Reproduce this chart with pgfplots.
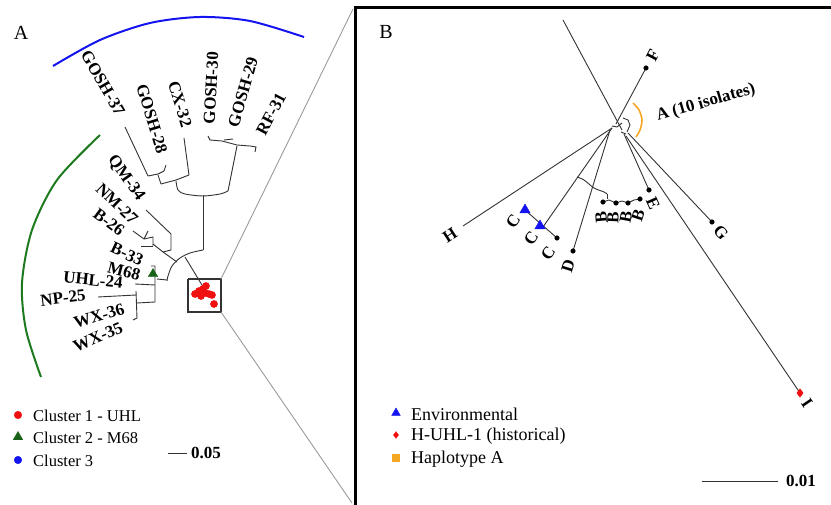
\documentclass[border=0pt]{standalone}
\usepackage{fontspec}
\setmainfont{Liberation Serif}
\usepackage{pgfplots}
\pgfplotsset{compat=1.18}
\definecolor{tr}{HTML}{333333}
\definecolor{gr}{HTML}{9A9A9A}
\definecolor{cgreen}{HTML}{1E7A1E}
\definecolor{cblue}{HTML}{1414F0}
\definecolor{corange}{HTML}{F5A623}
\definecolor{cred}{HTML}{F01010}
\tikzset{
  lbl/.style={font=\fontsize{17}{17}\selectfont\bfseries, inner sep=0pt},
  leg/.style={font=\fontsize{18}{18}\selectfont, anchor=west, inner sep=0pt},
  lega/.style={font=\fontsize{16.5}{16.5}\selectfont, anchor=west, inner sep=0pt},
}
\pgfplotsset{tree/.style={tr, line width=0.9pt, mark=none}}
\begin{document}
\begin{tikzpicture}
\begin{axis}[scale only axis, width=831pt, height=505pt,
  xmin=0, xmax=831, ymin=0, ymax=505, y dir=reverse,
  hide axis, clip=false, anchor=south west, at={(0,0)}]
% ---------- Panel A arcs ----------
\addplot[cblue, line width=2pt, smooth, mark=none] coordinates {(53,66) (100,40) (150,23) (200,17) (250,21) (304,37)};
\addplot[cgreen, line width=2pt, smooth, mark=none] coordinates {(100,135) (57,180) (32,230) (22,283) (26,330) (41,377)};
% ---------- Panel A tree : cluster 3 ----------
\addplot[tree] coordinates {(203,250) (203,195)};
\addplot[tree, smooth] coordinates {(176,181) (178,190) (185,194) (203,196) (220,194) (228,191)};
\addplot[tree] coordinates {(228,191) (237,146)};
\addplot[tree] coordinates {(208,136) (210,140) (222,141) (237,145) (250,146) (256,147) (255,152)};
\addplot[tree] coordinates {(224,140) (233,139)};
\addplot[tree] coordinates {(161,184) (176,180) (189,175)};
\addplot[tree] coordinates {(189,175) (184,138)};
\addplot[tree] coordinates {(161,184) (158,175)};
\addplot[tree] coordinates {(148,176) (158,174) (164,171) (166,165)};
\addplot[tree] coordinates {(125,127) (148,176)};
% ---------- Panel A tree : cluster 2 ----------
\addplot[tree] coordinates {(177,262) (163,252)};
\addplot[tree] coordinates {(163,252) (171,250) (171,234)};
\addplot[tree] coordinates {(171,234) (146,210)};
\addplot[tree] coordinates {(163,252) (153,244)};
\addplot[tree] coordinates {(153,246) (153,237) (144,239)};
\addplot[tree] coordinates {(141,246) (153,246)};
\addplot[tree] coordinates {(133,231) (144,239)};
\addplot[tree] coordinates {(144,239) (148,231)};
\addplot[tree, smooth] coordinates {(203,250) (190,253) (180,258) (172,266) (168,276) (167,281)};
\addplot[tree] coordinates {(185,257) (205,290)};
\addplot[tree] coordinates {(167,280) (157,279)};
\addplot[tree] coordinates {(151,266) (155,266) (155,302) (137,303)};
\addplot[tree] coordinates {(135,284) (155,285)};
\addplot[tree] coordinates {(98,297) (136,295)};
\addplot[tree] coordinates {(136,291) (137,318) (133,320)};
% box and zoom lines
\addplot[tr, line width=1.1pt, mark=none] coordinates {(188,279) (221,279) (221,312) (188,312) (188,279)};
\addplot[gr, line width=0.9pt, mark=none] coordinates {(221,279) (353,9)};
\addplot[gr, line width=0.9pt, mark=none] coordinates {(221,312) (352,503)};
% red cluster
\addplot[only marks, mark=*, cred, mark size=3.6pt] coordinates {(195,294) (199,291) (203,289) (206,286) (205,293) (209,294) (212,295) (201,296) (214,304)};
\addplot[only marks, mark=triangle*, cgreen!80!black, mark size=5.5pt] coordinates {(153,274)};
% scale bar A
\addplot[tr, line width=0.9pt, mark=none] coordinates {(168,453) (187,453)};
% legend A markers
\addplot[only marks, mark=*, cred, mark size=3.8pt] coordinates {(18,415)};
\addplot[only marks, mark=triangle*, cgreen!80!black, mark size=5.5pt] coordinates {(18,437)};
\addplot[only marks, mark=*, cblue, mark size=3.8pt] coordinates {(18,460)};
% ---------- Panel B ----------
\addplot[black, line width=3pt, mark=none] coordinates {(355,505) (355,8) (831,8)};
\addplot[tree] coordinates {(563,20) (622,130)};
\addplot[tree] coordinates {(616,124) (646,68)};
\addplot[tree] coordinates {(612,128) (463,226)};
\addplot[tree] coordinates {(612,128) (543,227)};
\addplot[tree] coordinates {(525,210) (557,238)};
\addplot[tree, smooth] coordinates {(577,177) (584,180) (594,188) (604,192) (607,194)};
\addplot[tree] coordinates {(607,194) (607,199)};
\addplot[tree] coordinates {(603,202) (609,200) (616,203) (622,201) (628,203) (634,200) (640,199)};
\addplot[tree] coordinates {(610,130) (573,251)};
\addplot[tree] coordinates {(624,134) (649,190)};
\addplot[tree] coordinates {(628,133) (712,222)};
\addplot[tree] coordinates {(626,136) (800,393)};
\addplot[tree] coordinates {(612,126) (617,127) (622,123)};
\addplot[tree] coordinates {(623,118) (628,120) (630,125) (627,132)};
\addplot[tree] coordinates {(621,132) (626,134)};
\addplot[corange, line width=1.6pt, smooth, mark=none] coordinates {(633,103) (639,110) (642,120) (640,130) (636,137)};
\addplot[only marks, mark=*, black, mark size=2.3pt] coordinates {(557,238) (573,251) (603,202) (616,203) (628,203) (640,199) (649,190) (712,222) (646,68)};
\addplot[only marks, mark=triangle*, cblue, mark size=6pt] coordinates {(525,210) (540,226)};
\addplot[only marks, mark=diamond*, cred, mark size=4.2pt] coordinates {(800,393)};
\addplot[tr, line width=0.9pt, mark=none] coordinates {(702,481) (778,481)};
% legend B markers
\addplot[only marks, mark=triangle*, cblue, mark size=5pt] coordinates {(396,413)};
\addplot[only marks, mark=diamond*, cred, mark size=3.4pt] coordinates {(396,435)};
\addplot[only marks, mark=square*, corange, mark size=3.4pt] coordinates {(396,458)};
% ---------- Texts ----------
\node[font=\fontsize{20}{20}\selectfont] at (axis cs:21,33) {A};
\node[font=\fontsize{20}{20}\selectfont] at (axis cs:386,32) {B};
\node[lbl, rotate=-60] at (axis cs:103,83) {GOSH-37};
\node[lbl, rotate=-73] at (axis cs:152,119) {GOSH-28};
\node[lbl, rotate=-73] at (axis cs:180,104) {CX-32};
\node[lbl, rotate=87] at (axis cs:211,88) {GOSH-30};
\node[lbl, rotate=74] at (axis cs:243,92) {GOSH-29};
\node[lbl, rotate=62] at (axis cs:271,114) {RF-31};
\node[lbl, rotate=-55] at (axis cs:126,178) {QM-34};
\node[lbl, rotate=-44] at (axis cs:117,204) {NM-27};
\node[lbl, rotate=-37] at (axis cs:109,222) {B-26};
\node[lbl, rotate=-25] at (axis cs:127,254) {B-33};
\node[lbl, rotate=-15] at (axis cs:124,271) {M68};
\node[lbl, rotate=-6] at (axis cs:93,280) {UHL-24};
\node[lbl, rotate=7] at (axis cs:63,298) {NP-25};
\node[lbl, rotate=17] at (axis cs:99,316) {WX-36};
\node[lbl, rotate=23] at (axis cs:98,337) {WX-35};
\node[lega] at (axis cs:33,416) {Cluster 1 - UHL};
\node[lega] at (axis cs:33,438) {Cluster 2 - M68};
\node[lega] at (axis cs:33,461) {Cluster 3};
\node[lbl, anchor=west] at (axis cs:191,453) {0.05};
% panel B labels
\node[lbl, rotate=62] at (axis cs:653,55) {F};
\node[lbl, rotate=16] at (axis cs:706,103) {A (10 isolates)};
\node[lbl, rotate=33] at (axis cs:450,235) {H};
\node[lbl, rotate=55] at (axis cs:513,221) {C};
\node[lbl, rotate=55] at (axis cs:531,238) {C};
\node[lbl, rotate=55] at (axis cs:548,253) {C};
\node[lbl, rotate=73] at (axis cs:568,266) {D};
\node[lbl, rotate=95] at (axis cs:601,217) {B};
\node[lbl, rotate=88] at (axis cs:613,218) {B};
\node[lbl, rotate=80] at (axis cs:626,217) {B};
\node[lbl, rotate=72] at (axis cs:638,215) {B};
\node[lbl, rotate=-66] at (axis cs:653,203) {E};
\node[lbl, rotate=-47] at (axis cs:721,233) {G};
\node[lbl, rotate=-56] at (axis cs:807,403) {I};
\node[leg] at (axis cs:411,414) {Environmental};
\node[leg] at (axis cs:411,436) {H-UHL-1 (historical)};
\node[leg] at (axis cs:411,459) {Haplotype A};
\node[lbl, anchor=west] at (axis cs:786,481) {0.01};
\end{axis}
\pgfresetboundingbox
\path (0,0) rectangle (831pt,505pt);
\end{tikzpicture}
\end{document}
